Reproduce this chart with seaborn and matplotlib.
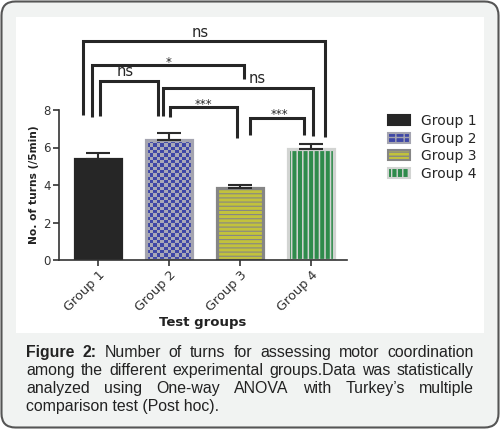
import numpy as np
import pandas as pd
import seaborn as sns
import matplotlib.pyplot as plt
from matplotlib.patches import Patch, Rectangle, FancyBboxPatch

groups = ['Group 1', 'Group 2', 'Group 3', 'Group 4']
means = [5.4, 6.4, 3.85, 5.9]
sems = [0.32, 0.38, 0.15, 0.28]

# significance brackets: left x, right x, top, left leg end, right leg end, label
brackets = [
    (-0.21, 3.20, 11.68, 7.73, 6.58, 'ns'),
    (-0.08, 2.05, 10.40, 7.64, 9.65, '*'),
    (0.03, 0.85, 9.56, 7.70, 7.70, 'ns'),
    (0.92, 3.03, 9.20, 7.70, 6.63, 'ns'),
    (1.01, 1.96, 8.18, 7.64, 6.49, '***'),
    (2.14, 2.90, 7.60, 6.67, 6.67, '***'),
]
# label anchor (x, baseline y) for each bracket
label_pos = [(1.44, 11.91), (1.0, 10.33), (0.39, 9.81),
             (2.24, 9.46), (1.49, 8.12), (2.55, 7.58)]

caption = [
    ['Figure', '2:', 'Number', 'of', 'turns', 'for', 'assessing', 'motor',
     'coordination'],
    ['among', 'the', 'different', 'experimental', 'groups.Data', 'was',
     'statistically'],
    ['analyzed', 'using', 'One-way', 'ANOVA', 'with', 'Turkey\u2019s',
     'multiple'],
    ['comparison test (Post hoc).'],
]

face = ['#262626', '#3f47a6', '#c2c23c', '#2e8b4b']
edge = ['#262626', '#a4a4b0', '#868686', '#d2d4d2']
hatch = [None, None, '----', '|||']

sns.set_style('ticks')
plt.rcParams['font.family'] = ['DejaVu Sans']

fig = plt.figure(figsize=(5.01, 4.30), dpi=100)

# panel background in pixel coordinates
bg = fig.add_axes([0, 0, 1, 1], zorder=-1)
bg.set_xlim(0, 501)
bg.set_ylim(430, 0)
bg.axis('off')
bg.add_patch(FancyBboxPatch((1.5, 1.5), 497, 426,
                            boxstyle='round,pad=0,rounding_size=14',
                            fc='#f1f3f2', ec='#555555', lw=1.5))
bg.add_patch(Rectangle((16, 17), 468, 316, fc='white', ec='none'))

ax = fig.add_axes([59 / 501, 170 / 430, 288 / 501, 150 / 430])
ax.set_facecolor('none')
df = pd.DataFrame({'group': groups, 'value': means})
sns.barplot(data=df, x='group', y='value', hue='group', palette=face,
            legend=False, width=0.66, saturation=1, ax=ax)

for i, p in enumerate(ax.patches):
    p.set_edgecolor(edge[i])
    p.set_linewidth(2.3)
    if hatch[i]:
        p.set_hatch(hatch[i])
        if hasattr(p, 'set_hatch_linewidth'):
            p.set_hatch_linewidth(0.8 if i == 2 else 1.1)

# checker texture for group 2
p = ax.patches[1]
x0, w, h = p.get_x(), p.get_width(), p.get_height()
nr, nc = 36, 13
chk = (np.add.outer(np.arange(nr), np.arange(nc)) % 2)
rgb = np.where(chk[..., None] == 1,
               np.array([63, 71, 166]) / 255, np.array([168, 168, 184]) / 255)
ax.imshow(rgb, extent=[x0, x0 + w, 0, h], aspect='auto',
          interpolation='nearest', zorder=p.get_zorder() - 0.1)
p.set_facecolor('none')

xs = np.arange(len(groups))
ax.errorbar(xs, means, yerr=[np.zeros(len(sems)), sems], fmt='none',
            ecolor='#2b2b2b', elinewidth=1.5, capsize=8.5, capthick=1.5,
            zorder=5)

ax.set_xlim(-0.549, 3.507)
ax.set_ylim(0, 8)
ax.set_yticks([0, 2, 4, 6, 8])
sns.despine(ax=ax)
for s in ['left', 'bottom']:
    ax.spines[s].set_linewidth(1.2)
    ax.spines[s].set_color('#333333')
ax.tick_params(axis='both', colors='#333333', width=1.2, length=4)
ax.tick_params(axis='y', labelsize=8.5, pad=2)
ax.tick_params(axis='x', labelsize=9.3, pad=2)
plt.setp(ax.get_xticklabels(), rotation=45, ha='right',
         rotation_mode='anchor')

ax.set_xlabel('Test groups', fontsize=9.5, fontweight='bold',
              color='#222222', va='top')
ax.xaxis.set_label_coords(0.5, -0.373)
ax.set_ylabel('No. of turns (/5min)', fontsize=7.7, fontweight='bold',
              color='#222222')
ax.yaxis.set_label_coords(-0.068, 0.5)

for (xa, xb, yt, ya, yb, lab), (tx, ty) in zip(brackets, label_pos):
    ax.plot([xa, xa, xb, xb], [ya, yt, yt, yb], color='#262626', lw=2.2,
            clip_on=False, solid_capstyle='butt', solid_joinstyle='miter')
    if lab == 'ns':
        ax.text(tx, ty, lab, ha='center', va='baseline', fontsize=10.5,
                color='#262626')
    else:
        ax.text(tx, ty, lab, ha='center', va='baseline', fontsize=8.5,
                color='#262626')

handles = []
for i, g in enumerate(groups):
    if i == 1:
        handles.append(Patch(fc='#3f47a6', ec='#a4a4b0', hatch='++', lw=1.5,
                             label=g))
    else:
        handles.append(Patch(fc=face[i], ec=edge[i], hatch=hatch[i], lw=1.5,
                             label=g))
ax.legend(handles=handles, loc='upper left',
          bbox_to_anchor=(388 / 501, (430 - 114) / 430),
          bbox_transform=fig.transFigure, frameon=False, fontsize=10,
          borderpad=0, borderaxespad=0, handlelength=1.6,
          handleheight=0.72, handletextpad=0.8, labelspacing=0.26)

# justified caption
renderer = fig.canvas.get_renderer()
left, right = 26, 474
baselines = [357, 375, 393, 411]
for li, words in enumerate(caption):
    texts = []
    for wi, word in enumerate(words):
        bold = li == 0 and wi < 2
        t = bg.text(0, baselines[li], word, fontsize=11.4,
                    family=['Liberation Sans', 'DejaVu Sans'],
                    fontweight='bold' if bold else 'normal',
                    color='#222222', ha='left', va='baseline')
        texts.append(t)
    if len(texts) == 1:
        texts[0].set_x(left)
        continue
    widths = [t.get_window_extent(renderer).width for t in texts]
    gap = (right - left - sum(widths)) / (len(texts) - 1)
    x = left
    for t, wd in zip(texts, widths):
        t.set_x(x)
        x += wd + gap

fig.savefig('out.png', dpi=100)
